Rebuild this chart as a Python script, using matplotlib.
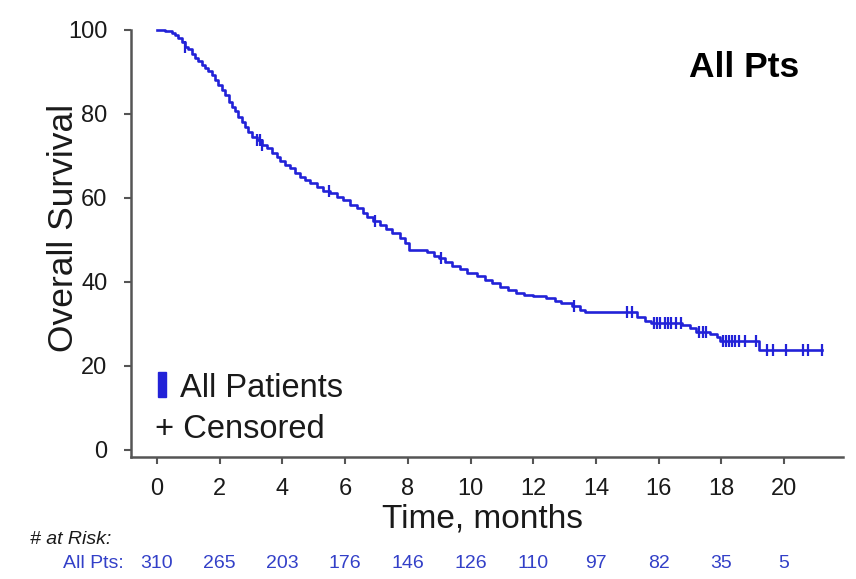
import numpy as np
import matplotlib
matplotlib.use("Agg")
import matplotlib.pyplot as plt
from matplotlib import font_manager

# Kaplan-Meier steps: time (months) and survival (%) after each step
step_t = [0, 0.26, 0.47, 0.57, 0.68, 0.79, 0.89, 1.0, 1.1, 1.21, 1.32, 1.42,
          1.53, 1.64, 1.74, 1.85, 1.96, 2.06, 2.17, 2.28, 2.38, 2.49, 2.59,
          2.7, 2.81, 2.91, 3.02, 3.18, 3.34, 3.5, 3.66, 3.82, 3.92, 4.08,
          4.24, 4.4, 4.56, 4.72, 4.88, 5.09, 5.3, 5.52, 5.73, 5.94, 6.16,
          6.37, 6.58, 6.69, 6.9, 7.1, 7.3, 7.5, 7.75, 7.9, 8.05, 8.6, 8.85,
          9.0, 9.2, 9.4, 9.65, 9.9, 10.2, 10.45, 10.7, 10.95, 11.2, 11.45,
          11.7, 12.0, 12.4, 12.7, 12.9, 13.25, 13.5, 13.65, 15.3, 15.55,
          15.75, 16.75, 17.0, 17.2, 17.65, 17.85, 17.95, 19.2, 21.2]
step_s = [100, 99.8, 99.4, 98.8, 98.0, 97.2, 96.0, 95.4, 94.4, 93.3, 92.5,
          91.7, 90.9, 90.3, 89.3, 88.1, 86.9, 85.7, 84.5, 82.9, 81.6, 80.6,
          79.4, 78.2, 77.0, 75.8, 74.6, 73.8, 72.6, 71.8, 70.6, 69.8, 68.7,
          67.9, 67.1, 66.0, 65.1, 64.3, 63.5, 62.7, 61.7, 61.1, 60.3, 59.5,
          58.3, 57.5, 56.4, 55.5, 54.5, 53.5, 52.6, 51.6, 50.5, 49.2, 47.6,
          47.1, 46.3, 45.7, 44.7, 43.9, 43.0, 42.2, 41.4, 40.5, 39.7, 38.8,
          38.0, 37.3, 37.0, 36.7, 36.3, 35.4, 35.0, 34.3, 33.4, 32.9, 31.7,
          30.7, 30.2, 29.7, 29.0, 28.2, 27.6, 26.8, 26.0, 23.8, 23.8]

# censoring times (months)
cens_t = [0.9, 3.2, 3.28, 3.36, 5.5, 6.95, 9.05, 13.3, 15.0, 15.15, 15.85,
          15.95, 16.05, 16.2, 16.3, 16.4, 16.55, 16.7, 17.3, 17.4, 17.5,
          18.05, 18.15, 18.25, 18.35, 18.45, 18.55, 18.75, 19.1, 19.45,
          19.65, 20.05, 20.6, 20.75, 21.2]

risk_t = [0, 2, 4, 6, 8, 10, 12, 14, 16, 18, 20]
risk_n = [310, 265, 203, 176, 146, 126, 110, 97, 82, 35, 5]

BLUE = "#2222d8"
RISK_BLUE = "#3340c8"
INK = "#1a1a1a"

names = {f.name for f in font_manager.fontManager.ttflist}
base = "Liberation Sans" if "Liberation Sans" in names else "DejaVu Sans"
narrow = "Liberation Sans Narrow" if "Liberation Sans Narrow" in names else base
plt.rcParams["font.family"] = base

W, H = 856, 579
fig = plt.figure(figsize=(W / 100, H / 100), dpi=100)
ax = fig.add_axes([131 / W, 1 - 457 / H, 712 / W, 427 / H])

ax.plot(step_t, step_s, drawstyle="steps-post", color=BLUE, lw=1.9,
        clip_on=False, zorder=3)

# censor marks sit on the curve value at that time
idx = np.searchsorted(step_t, cens_t, side="right") - 1
cens_s = np.array(step_s)[idx]
ax.plot(cens_t, cens_s, ls="none", marker="|", ms=8, mew=1.6, color=BLUE,
        clip_on=False, zorder=4)

ax.set_xlim(-0.83, 21.88)
ax.set_ylim(-1.67, 100)
ax.set_xticks(risk_t)
ax.set_yticks([0, 20, 40, 60, 80, 100])

for side in ("top", "right"):
    ax.spines[side].set_visible(False)
for side in ("left", "bottom"):
    ax.spines[side].set_color("#555555")
    ax.spines[side].set_linewidth(1.8)
ax.tick_params(axis="both", colors="#555555", length=5, width=1.5,
               labelsize=17, labelcolor=INK)
ax.tick_params(axis="x", pad=10)
ax.tick_params(axis="y", pad=12)

ax.set_xlabel("Time, months", fontsize=24, color=INK)
ax.xaxis.set_label_coords(0.493, -0.11)
ax.set_ylabel("Overall Survival", fontsize=25.5, color=INK)
ax.yaxis.set_label_coords(-0.072, 0.536)

ax.text(744 / W, 1 - 77 / H, "All Pts", transform=fig.transFigure,
        fontsize=25.5, fontweight="bold", ha="center", va="baseline")

# legend drawn by hand: blue bar + label, then censor key
fig.patches.append(plt.Rectangle((158 / W, 1 - 397 / H), 8 / W, 25 / H,
                                 transform=fig.transFigure, color=BLUE))
fig.text(180 / W, 1 - 397 / H, "All Patients", fontsize=23.5,
         va="baseline", ha="left", color=INK)
fig.text(155 / W, 1 - 438 / H, "+ Censored", fontsize=23.5,
         va="baseline", ha="left", color=INK)

# number at risk table
fig.text(30 / W, 1 - 540 / H, "# at Risk:", fontsize=14, style="italic",
         family=narrow, va="center", ha="left", color=INK)
fig.text(124 / W, 1 - 563 / H, "All Pts:", fontsize=14, family=narrow,
         va="center", ha="right", color=RISK_BLUE)
for t, n in zip(risk_t, risk_n):
    xf = ax.transData.transform((t, 0))[0] / fig.dpi / (W / 100)
    fig.text(xf, 1 - 563 / H, str(n), fontsize=14, family=narrow,
             va="center", ha="center", color=RISK_BLUE)

fig.savefig("out.png", dpi=100, facecolor="white")
